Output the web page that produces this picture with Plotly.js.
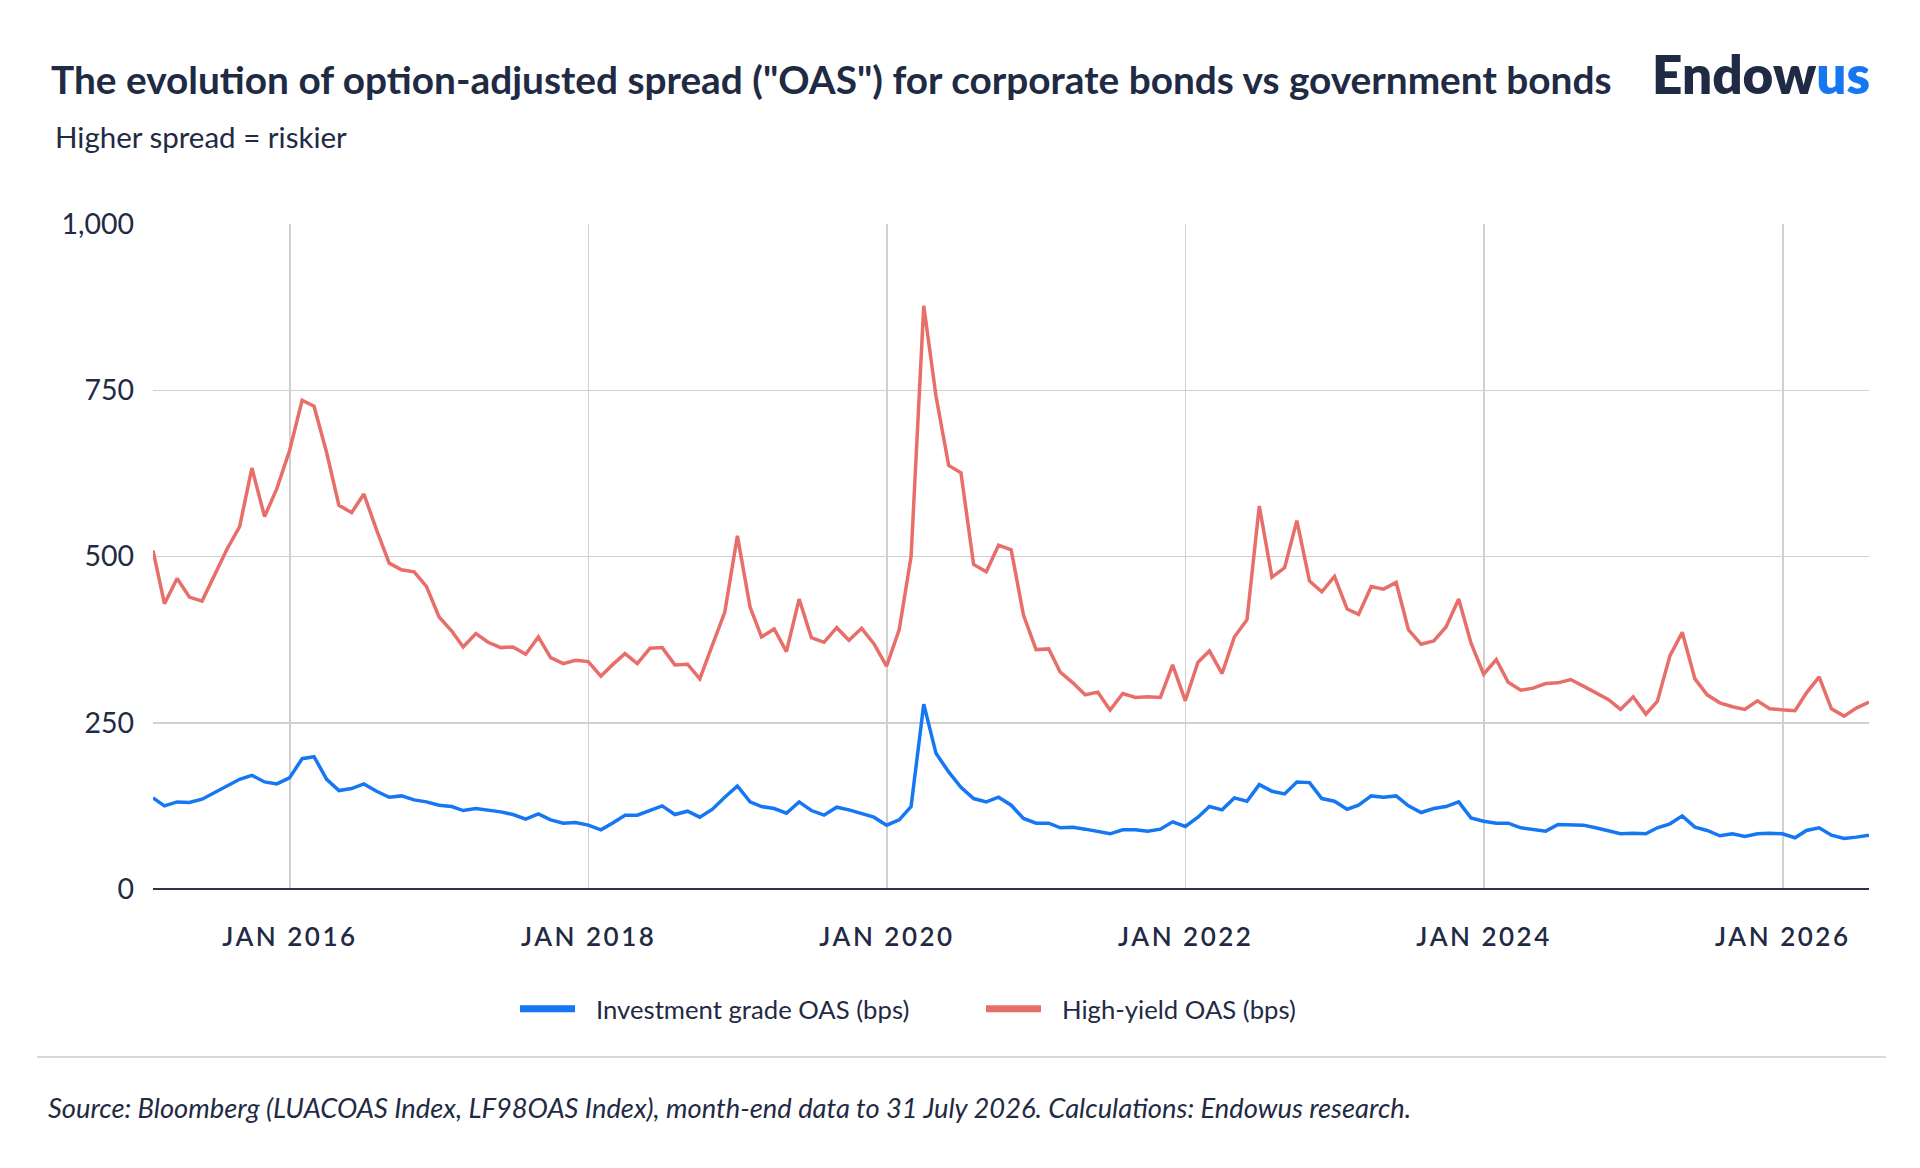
<!DOCTYPE html>
<html>
<head>
<meta charset="utf-8">
<title>OAS: corporate vs government bonds</title>
<script src="https://cdn.plot.ly/plotly-3.0.1.min.js"></script>
<style>
  html, body { margin: 0; padding: 0; background: #ffffff; }
  #chart { width: 1920px; height: 1168px; }
  .xtick text { letter-spacing: 2.5px; }
  .legend .legendlines path { stroke-width: 7px !important; }
  .legend .legendtext { transform: translateX(16px); }
</style>
</head>
<body>
<div id="chart"></div>
<script>
// month-end observation dates, Jan 2015 .. Jul 2026
var dates = [
  "2015-01-31","2015-02-28","2015-03-31","2015-04-30","2015-05-31","2015-06-30","2015-07-31","2015-08-31","2015-09-30","2015-10-31","2015-11-30","2015-12-31",
  "2016-01-31","2016-02-29","2016-03-31","2016-04-30","2016-05-31","2016-06-30","2016-07-31","2016-08-31","2016-09-30","2016-10-31","2016-11-30","2016-12-31",
  "2017-01-31","2017-02-28","2017-03-31","2017-04-30","2017-05-31","2017-06-30","2017-07-31","2017-08-31","2017-09-30","2017-10-31","2017-11-30","2017-12-31",
  "2018-01-31","2018-02-28","2018-03-31","2018-04-30","2018-05-31","2018-06-30","2018-07-31","2018-08-31","2018-09-30","2018-10-31","2018-11-30","2018-12-31",
  "2019-01-31","2019-02-28","2019-03-31","2019-04-30","2019-05-31","2019-06-30","2019-07-31","2019-08-31","2019-09-30","2019-10-31","2019-11-30","2019-12-31",
  "2020-01-31","2020-02-29","2020-03-31","2020-04-30","2020-05-31","2020-06-30","2020-07-31","2020-08-31","2020-09-30","2020-10-31","2020-11-30","2020-12-31",
  "2021-01-31","2021-02-28","2021-03-31","2021-04-30","2021-05-31","2021-06-30","2021-07-31","2021-08-31","2021-09-30","2021-10-31","2021-11-30","2021-12-31",
  "2022-01-31","2022-02-28","2022-03-31","2022-04-30","2022-05-31","2022-06-30","2022-07-31","2022-08-31","2022-09-30","2022-10-31","2022-11-30","2022-12-31",
  "2023-01-31","2023-02-28","2023-03-31","2023-04-30","2023-05-31","2023-06-30","2023-07-31","2023-08-31","2023-09-30","2023-10-31","2023-11-30","2023-12-31",
  "2024-01-31","2024-02-29","2024-03-31","2024-04-30","2024-05-31","2024-06-30","2024-07-31","2024-08-31","2024-09-30","2024-10-31","2024-11-30","2024-12-31",
  "2025-01-31","2025-02-28","2025-03-31","2025-04-30","2025-05-31","2025-06-30","2025-07-31","2025-08-31","2025-09-30","2025-10-31","2025-11-30","2025-12-31",
  "2026-01-31","2026-02-28","2026-03-31","2026-04-30","2026-05-31","2026-06-30","2026-07-31"
];

// Investment grade OAS (bps)
var igOas = [
  137,125,131,130,135,145,154,165,171,161,158,167,
  196,199,165,148,151,158,147,138,140,134,131,126,
  124,118,121,119,116,112,105,113,104,99,100,96,
  89,99,111,111,118,125,112,117,108,120,138,155,
  131,124,121,114,131,118,111,123,119,114,108,96,
  104,124,278,204,176,153,136,131,138,126,106,99,
  99,92,93,90,87,83,89,89,87,90,101,94,
  108,124,119,137,132,157,147,143,161,160,136,132,
  120,126,140,138,140,125,115,121,124,131,107,102,
  99,99,92,90,87,97,96,96,92,88,83,84,
  83,92,98,110,93,88,80,83,79,83,84,83,
  77,88,92,81,76,78,81
];

// High-yield OAS (bps)
var hyOas = [
  509,429,467,439,433,472,511,545,633,560,602,659,
  735,726,656,577,566,594,540,490,480,477,455,409,
  388,364,384,371,363,364,353,379,348,339,344,342,
  320,337,354,339,362,363,337,338,316,367,416,531,
  424,379,391,357,436,378,371,393,374,392,369,335,
  390,500,877,741,637,626,488,477,517,510,412,360,
  361,326,310,292,296,269,294,288,289,288,337,283,
  341,358,324,379,405,576,469,483,554,463,447,470,
  421,413,455,451,461,390,368,373,394,436,370,323,
  345,311,299,302,309,310,315,305,295,285,270,289,
  263,282,351,386,316,292,280,274,270,283,271,269,
  268,295,319,271,260,272,281
];

var xTickVals = ["2016-01-01","2018-01-01","2020-01-01","2022-01-01","2024-01-01","2026-01-01"];
var xTickText = ["JAN 2016","JAN 2018","JAN 2020","JAN 2022","JAN 2024","JAN 2026"];
var yTickVals = [0, 250, 500, 750, 1000];

var seriesNames = ["Investment grade OAS (bps)", "High-yield OAS (bps)"];

var INK = "#1f2a44", BLUE = "#1677f2", RED = "#e86e6a", GRID = "#d0d0d0";
var FONT = "Lato, 'Open Sans', sans-serif";

// plot area in page pixels, used to place the page furniture
var PL = 153, PR = 1869, PT = 224, PB = 889;
function fx(px) { return (px - PL) / (PR - PL); }
function fy(py) { return (PB - py) / (PB - PT); }

var traces = [
  { x: dates, y: igOas, type: "scatter", mode: "lines", name: seriesNames[0],
    line: { color: BLUE, width: 3.5 }, hoverinfo: "skip" },
  { x: dates, y: hyOas, type: "scatter", mode: "lines", name: seriesNames[1],
    line: { color: RED, width: 3.5 }, hoverinfo: "skip" }
];

var layout = {
  width: 1920, height: 1168,
  paper_bgcolor: "#ffffff", plot_bgcolor: "#ffffff",
  font: { family: FONT, color: INK, size: 26 },
  margin: { l: PL, r: 1920 - PR, t: PT, b: 1168 - PB, pad: 0 },
  title: {
    text: "The evolution of option-adjusted spread (\"OAS\") for corporate bonds vs government bonds",
    xref: "container", yref: "container", x: 51 / 1920, xanchor: "left",
    y: 1 - 80 / 1168, yanchor: "middle",
    font: { family: FONT, size: 38.8, weight: 700, color: INK }
  },
  xaxis: {
    type: "date", range: [dates[0], dates[dates.length - 1]],
    tickvals: xTickVals, ticktext: xTickText,
    showgrid: true, gridcolor: GRID, gridwidth: 1.5,
    showline: false, zeroline: false, ticks: "",
    ticklabelstandoff: 30,
    tickfont: { family: FONT, size: 26, weight: 600, color: INK }
  },
  yaxis: {
    range: [0, 1000], tickvals: yTickVals, tickformat: ",",
    showgrid: true, gridcolor: GRID, gridwidth: 1.5,
    zeroline: true, zerolinecolor: "#2b3445", zerolinewidth: 2.5,
    showline: false, ticks: "", ticklabelstandoff: 18,
    tickfont: { family: FONT, size: 28.5, color: INK }
  },
  showlegend: true,
  legend: {
    orientation: "h", x: fx(515), xanchor: "left", y: fy(1009), yanchor: "middle",
    font: { family: FONT, size: 25.7, color: INK },
    itemwidth: 55, entrywidth: 396, entrywidthmode: "pixels",
    bgcolor: "rgba(0,0,0,0)"
  },
  shapes: [
    { type: "line", xref: "paper", yref: "paper", x0: fx(37), x1: fx(1886), y0: fy(1057), y1: fy(1057),
      line: { color: "#d9d9d9", width: 2 } }
  ],
  annotations: [
    { text: "Higher spread = riskier", xref: "paper", yref: "paper",
      x: fx(53), y: fy(136), xanchor: "left", yanchor: "middle", showarrow: false,
      font: { family: FONT, size: 29.5, color: INK } },
    { text: "Endow<span style=\"color:" + BLUE + "\">us</span>", xref: "paper", yref: "paper",
      x: fx(1872), y: fy(74), xanchor: "right", yanchor: "middle", showarrow: false,
      font: { family: FONT, size: 53, weight: 800, color: INK } },
    { text: "<i>Source: Bloomberg (LUACOAS Index, LF98OAS Index), month-end data to 31 July 2026. Calculations: Endowus research.</i>",
      xref: "paper", yref: "paper", x: fx(46), y: fy(1107), xanchor: "left", yanchor: "middle", showarrow: false,
      font: { family: FONT, size: 27.3, style: "italic", color: INK } }
  ]
};

Plotly.newPlot("chart", traces, layout, { displayModeBar: false, staticPlot: true });
</script>
</body>
</html>
